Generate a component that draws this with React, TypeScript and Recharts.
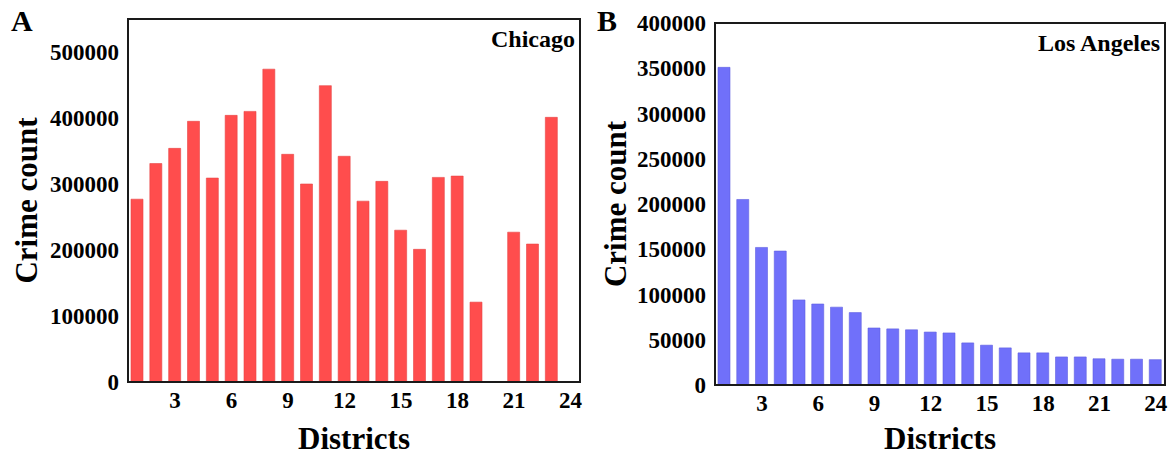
import React from 'react';
import { BarChart, Bar, XAxis, YAxis, ReferenceArea } from 'recharts';

const districts = [1, 2, 3, 4, 5, 6, 7, 8, 9, 10, 11, 12, 13, 14, 15, 16, 17, 18, 19, 20, 21, 22, 23, 24];
const chicagoCounts = [277000, 331000, 354000, 395000, 309000, 404000, 410000, 474000, 345000, 300000, 449000, 342000, 274000, 304000, 230000, 201000, 310000, 312000, 121000, 0, 227000, 209000, 401000, 0];
const laCounts = [351000, 205000, 152000, 148000, 94000, 89500, 86000, 80000, 63000, 62000, 61000, 58500, 57500, 46500, 44000, 41000, 35500, 35500, 31000, 31000, 29000, 28500, 28500, 28000];
const xTicks = [3, 6, 9, 12, 15, 18, 21, 24];
const chicagoYTicks = [0, 100000, 200000, 300000, 400000, 500000];
const laYTicks = [0, 50000, 100000, 150000, 200000, 250000, 300000, 350000, 400000];

const chicagoData = districts.map((d, i) => ({ district: d, count: chicagoCounts[i] }));
const laData = districts.map((d, i) => ({ district: d, count: laCounts[i] }));

const FONT = '"Liberation Serif", "Times New Roman", serif';
const AXIS = '#1a1a1a';
const tickStyle = { fontFamily: FONT, fontWeight: 700, fontSize: 23, fill: '#000' };

type PanelProps = {
  data: { district: number; count: number }[];
  left: number;
  width: number;
  top: number;
  bottom: number;
  yAxisWidth: number;
  marginRight: number;
  yMax: number;
  yTicks: number[];
  color: string;
  stroke: string;
  title: string;
  letter: string;
  letterX: number;
  titleLabelX: number;
};

function Panel(p: PanelProps) {
  const H = 461;
  return (
    <div style={{ position: 'absolute', left: p.left, top: 0, width: p.width, height: H }}>
      <BarChart
        width={p.width}
        height={H}
        data={p.data}
        margin={{ top: p.top, right: p.marginRight, left: 0, bottom: 0 }}
        style={{ overflow: 'visible' }}
      >
        <XAxis
          dataKey="district"
          type="number"
          domain={[0.5, 24.5]}
          ticks={xTicks}
          allowDataOverflow
          tickLine={false}
          tickMargin={4}
          axisLine={{ stroke: AXIS, strokeWidth: 2 }}
          tick={tickStyle}
          height={H - p.bottom}
          label={{ value: 'Districts', position: 'insideBottom', offset: 12, style: { fontFamily: FONT, fontWeight: 700, fontSize: 31, fill: '#000' } }}
        />
        <YAxis
          type="number"
          domain={[0, p.yMax]}
          ticks={p.yTicks}
          allowDataOverflow
          tickLine={false}
          tickMargin={3}
          interval={0}
          width={p.yAxisWidth}
          axisLine={{ stroke: AXIS, strokeWidth: 2 }}
          tick={tickStyle}
          label={{ value: 'Crime count', angle: -90, position: 'insideLeft', offset: p.titleLabelX, style: { fontFamily: FONT, fontWeight: 700, fontSize: 31, fill: '#000', textAnchor: 'middle' } }}
        />
        <ReferenceArea
          x1={0.5}
          x2={24.5}
          y1={0}
          y2={p.yMax}
          fill="none"
          fillOpacity={0}
          stroke={AXIS}
          strokeWidth={2}
          ifOverflow="visible"
        />
        <Bar dataKey="count" fill={p.color} stroke={p.stroke} strokeWidth={0.6} barSize={12} isAnimationActive={false} />
      </BarChart>
      <div
        style={{
          position: 'absolute',
          left: p.letterX,
          top: 6,
          fontFamily: FONT,
          fontWeight: 700,
          fontSize: 30,
          lineHeight: '30px',
          color: '#000',
        }}
      >
        {p.letter}
      </div>
      <div
        style={{
          position: 'absolute',
          right: p.marginRight + 5,
          top: p.top + 7,
          fontFamily: FONT,
          fontWeight: 700,
          fontSize: 24,
          lineHeight: '26px',
          color: '#000',
        }}
      >
        {p.title}
      </div>
    </div>
  );
}

export default function App() {
  return (
    <div style={{ position: 'absolute', left: 0, top: 0, width: 1174, height: 461, background: '#fff' }}>
      <Panel
        data={chicagoData}
        left={0}
        width={590}
        top={19}
        bottom={382}
        yAxisWidth={128}
        marginRight={10}
        yMax={550000}
        yTicks={chicagoYTicks}
        color="#FF4D4D"
        stroke="#E84545"
        title="Chicago"
        letter="A"
        letterX={11}
        titleLabelX={26}
      />
      <Panel
        data={laData}
        left={590}
        width={584}
        top={23}
        bottom={385}
        yAxisWidth={125}
        marginRight={9}
        yMax={400000}
        yTicks={laYTicks}
        color="#7070FA"
        stroke="#5F5FE0"
        title="Los Angeles"
        letter="B"
        letterX={7}
        titleLabelX={25}
      />
    </div>
  );
}
